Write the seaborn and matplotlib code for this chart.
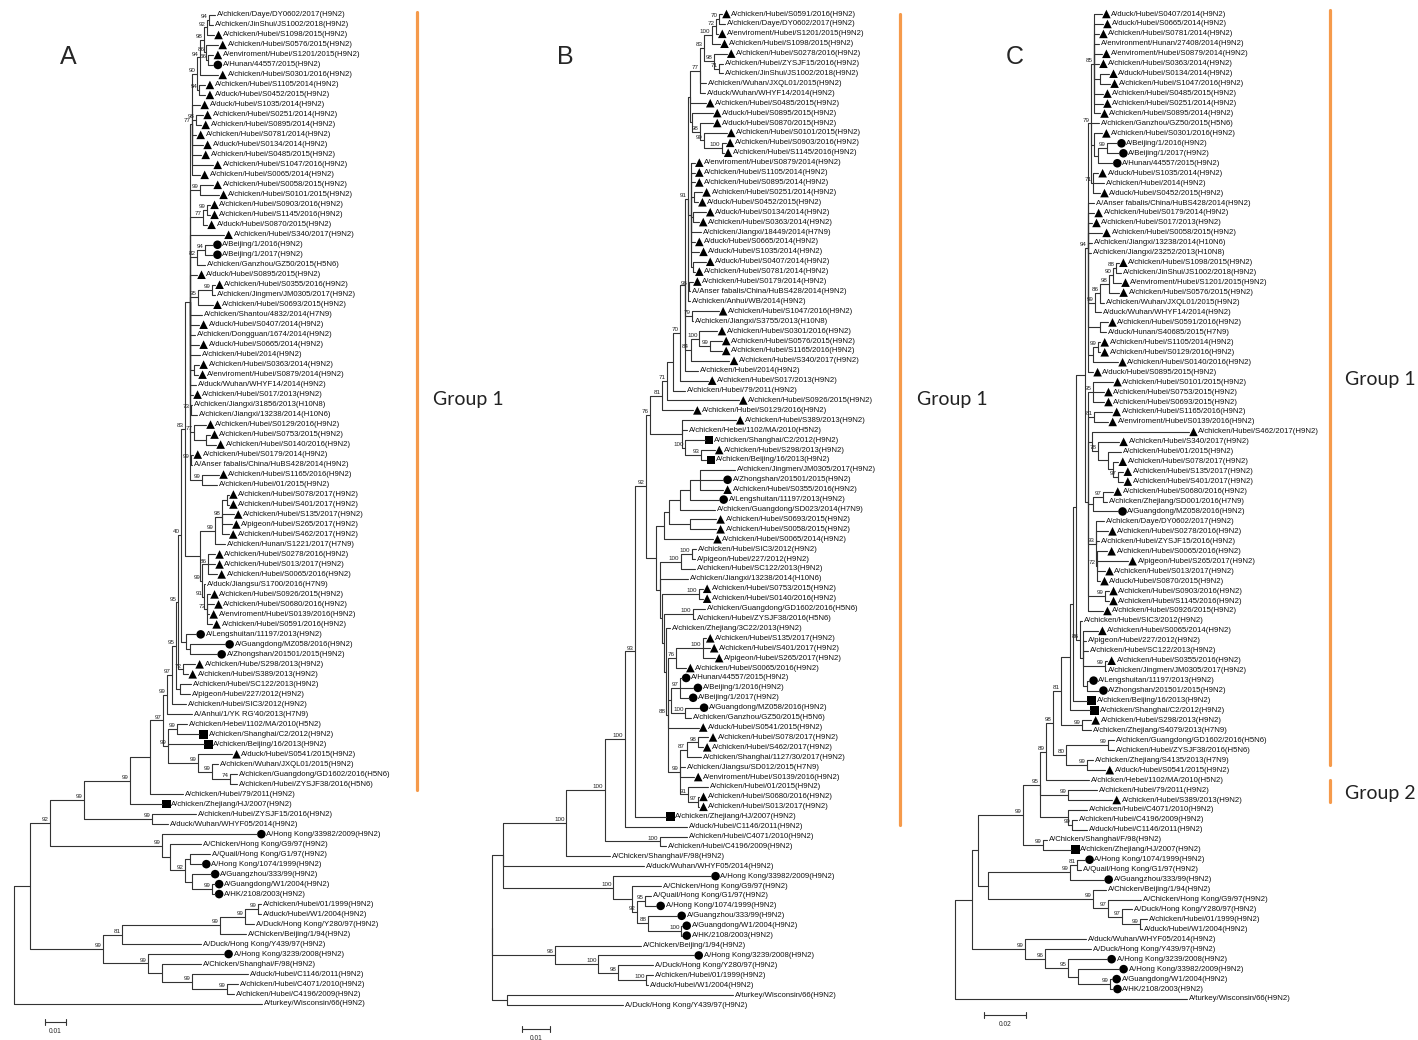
import re
import numpy as np
import pandas as pd
import matplotlib
matplotlib.use("Agg")
import matplotlib.pyplot as plt
from matplotlib.lines import Line2D
import seaborn as sns

sns.set_style("white")
plt.rcParams["font.family"] = ["Liberation Sans Narrow", "Liberation Sans", "DejaVu Sans"]

# ---------------------------------------------------------------- panel A data
LEAVES_A = [
    "A/chicken/Daye/DY0602/2017(H9N2)", "A/chicken/JinShui/JS1002/2018(H9N2)",
    "A/chicken/Hubei/S1098/2015(H9N2)", "A/chicken/Hubei/S0576/2015(H9N2)",
    "A/enviroment/Hubei/S1201/2015(H9N2)", "A/Hunan/44557/2015(H9N2)",
    "A/chicken/Hubei/S0301/2016(H9N2)", "A/chicken/Hubei/S1105/2014(H9N2)",
    "A/duck/Hubei/S0452/2015(H9N2)", "A/duck/Hubei/S1035/2014(H9N2)",
    "A/chicken/Hubei/S0251/2014(H9N2)", "A/chicken/Hubei/S0895/2014(H9N2)",
    "A/chicken/Hubei/S0781/2014(H9N2)", "A/duck/Hubei/S0134/2014(H9N2)",
    "A/chicken/Hubei/S0485/2015(H9N2)", "A/chicken/Hubei/S1047/2016(H9N2)",
    "A/chicken/Hubei/S0065/2014(H9N2)", "A/chicken/Hubei/S0058/2015(H9N2)",
    "A/chicken/Hubei/S0101/2015(H9N2)", "A/chicken/Hubei/S0903/2016(H9N2)",
    "A/chicken/Hubei/S1145/2016(H9N2)", "A/duck/Hubei/S0870/2015(H9N2)",
    "A/chicken/Hubei/S340/2017(H9N2)", "A/Beijing/1/2016(H9N2)",
    "A/Beijing/1/2017(H9N2)", "A/chicken/Ganzhou/GZ50/2015(H5N6)",
    "A/duck/Hubei/S0895/2015(H9N2)", "A/chicken/Hubei/S0355/2016(H9N2)",
    "A/chicken/Jingmen/JM0305/2017(H9N2)", "A/chicken/Hubei/S0693/2015(H9N2)",
    "A/chicken/Shantou/4832/2014(H7N9)", "A/duck/Hubei/S0407/2014(H9N2)",
    "A/chicken/Dongguan/1674/2014(H9N2)", "A/duck/Hubei/S0665/2014(H9N2)",
    "A/chicken/Hubei/2014(H9N2)", "A/chicken/Hubei/S0363/2014(H9N2)",
    "A/enviroment/Hubei/S0879/2014(H9N2)", "A/duck/Wuhan/WHYF14/2014(H9N2)",
    "A/chicken/Hubei/S017/2013(H9N2)", "A/chicken/Jiangxi/31856/2013(H10N8)",
    "A/chicken/Jiangxi/13238/2014(H10N6)", "A/chicken/Hubei/S0129/2016(H9N2)",
    "A/chicken/Hubei/S0753/2015(H9N2)", "A/chicken/Hubei/S0140/2016(H9N2)",
    "A/chicken/Hubei/S0179/2014(H9N2)", "A/Anser fabalis/China/HuBS428/2014(H9N2)",
    "A/chicken/Hubei/S1165/2016(H9N2)", "A/chicken/Hubei/01/2015(H9N2)",
    "A/chicken/Hubei/S078/2017(H9N2)", "A/chicken/Hubei/S401/2017(H9N2)",
    "A/chicken/Hubei/S135/2017(H9N2)", "A/pigeon/Hubei/S265/2017(H9N2)",
    "A/chicken/Hubei/S462/2017(H9N2)", "A/chicken/Hunan/S1221/2017(H7N9)",
    "A/chicken/Hubei/S0278/2016(H9N2)", "A/chicken/Hubei/S013/2017(H9N2)",
    "A/chicken/Hubei/S0065/2016(H9N2)", "A/duck/Jiangsu/S1700/2016(H7N9)",
    "A/chicken/Hubei/S0926/2015(H9N2)", "A/chicken/Hubei/S0680/2016(H9N2)",
    "A/enviroment/Hubei/S0139/2016(H9N2)", "A/chicken/Hubei/S0591/2016(H9N2)",
    "A/Lengshuitan/11197/2013(H9N2)", "A/Guangdong/MZ058/2016(H9N2)",
    "A/Zhongshan/201501/2015(H9N2)", "A/chicken/Hube/S298/2013(H9N2)",
    "A/chicken/Hubei/S389/2013(H9N2)", "A/chicken/Hubei/SC122/2013(H9N2)",
    "A/pigeon/Hubei/227/2012(H9N2)", "A/chicken/Hubei/SIC3/2012(H9N2)",
    "A/Anhui/1/YK RG'40/2013(H7N9)", "A/chicken/Hebei/1102/MA/2010(H5N2)",
    "A/chicken/Shanghai/C2/2012(H9N2)", "A/chicken/Beijing/16/2013(H9N2)",
    "A/duck/Hubei/S0541/2015(H9N2)", "A/chicken/Wuhan/JXQL01/2015(H9N2)",
    "A/chicken/Guangdong/GD1602/2016(H5N6)", "A/chicken/Hubei/ZYSJF38/2016(H5N6)",
    "A/chicken/Hubei/79/2011(H9N2)", "A/chicken/Zhejiang/HJ/2007(H9N2)",
    "A/chicken/Hubei/ZYSJF15/2016(H9N2)", "A/duck/Wuhan/WHYF05/2014(H9N2)",
    "A/Hong Kong/33982/2009(H9N2)", "A/Chicken/Hong Kong/G9/97(H9N2)",
    "A/Quail/Hong Kong/G1/97(H9N2)", "A/Hong Kong/1074/1999(H9N2)",
    "A/Guangzhou/333/99(H9N2)", "A/Guangdong/W1/2004(H9N2)",
    "A/HK/2108/2003(H9N2)", "A/chicken/Hubei/01/1999(H9N2)",
    "A/duck/Hubei/W1/2004(H9N2)", "A/Duck/Hong Kong/Y280/97(H9N2)",
    "A/Chicken/Beijing/1/94(H9N2)", "A/Duck/Hong Kong/Y439/97(H9N2)",
    "A/Hong Kong/3239/2008(H9N2)", "A/Chicken/Shanghai/F/98(H9N2)",
    "A/duck/Hubei/C1146/2011(H9N2)", "A/chicken/Hubei/C4071/2010(H9N2)",
    "A/chicken/Hubei/C4196/2009(H9N2)", "A/turkey/Wisconsin/66(H9N2)",
]
# t = triangle, c = circle, s = square, . = none
MARKS_A = ("..tttctttt" "tttttttttt" "tttcc.tt.t" ".t.t.tt.t." ".tttt.t.tt"
           "ttt.ttt.tt" "ttccctt..." "..sst....s" "..c..cccc." "....c.....")

# branch lengths in 1e-3 substitutions/site, node labels = bootstrap
A_TOP = ("((((((1:2.9,2:1.9)94:1.0,3:3.3)92:1.4,(4:5.7,(5:2.4,6:2.4)66:1.0)86:1.0)98:1.9,"
         "7:8.6)94:1.4,(8:2.9,9:2.9)94:1.0)90:2.4,10:3.8,(11:3.3,12:2.4)98:1.9,13:1.9,"
         "14:5.2,15:4.3,16:10.0,17:3.8)77:1.0")
A_MID = ("(18:6.2,19:9.0)99:4.8,((20:1.4,21:1.4)99:1.9,22:1.9)77:6.2,23:16.2,"
         "((24:3.8,25:3.8)94:3.8,26:3.8)82:3.3,27:3.3,((28:1.4,29:1.4)99:6.7,30:7.1)95:3.8,"
         "31:5.7,32:4.3,33:2.4,34:4.3,35:4.8,(36:2.4,37:1.9):1.9,38:2.9,39:1.4,"
         "(40:0.5,41:2.9)73:0.5,(42:5.7,(43:1.9,44:4.8):5.7)77:1.9,(45:1.0,46:0.5)99:0.5,"
         "(47:8.1,48:7.1)99:5.7")
A_49 = ("((((49:1.0,50:1.0):2.4,51:5.7,52:4.8,53:3.3)98:3.3,54:4.8)99:7.1,"
        "((55:3.3,56:3.3,57:4.3)86:2.9,(58:0.5,(59:1.4,60:3.3,61:1.0,62:2.4)73:1.4)91:1.0)99:1.0):7.1")
A_G1 = ("(((((((" + A_TOP + "," + A_MID + "):2.4," + A_49 + ")83:1.9,"
        "(63:4.8,(64:16.7,65:12.9):1.9):2.4)40:1.4,(66:5.7,67:2.4)72:2.4)95:1.0,"
        "(68:5.2,69:4.8):1.9)95:1.9,70:6.7)97:2.4,71:11.9)99:1.9")
A_HB = "((72:4.8,73:10.5)99:4.3,74:17.1,(75:16.2,(76:2.9,(77:3.3,78:3.3)74:8.6)99:6.7)99:14.3)99:2.4"
A_HK = "(83:45.2,(84:14.8,((85:9.5,86:5.7):2.4,(87:9.0,(88:1.4,89:1.4)99:9.5):3.3)92:7.1):3.8)99:53.3"
A_LO = ("(((((90:1.4,91:1.4)99:6.2,92:4.3)99:11.9,93:12.4)99:46.7,94:37.6)81:9.0,"
        "(95:36.2,(96:18.6,(97:26.7,(98:5.2,99:3.3)99:16.7)99:14.3):6.7)99:21.4)99:34.8")
TREE_A = ("(((((((" + A_G1 + "," + A_HB + ")97:6.2,79:15.7):9.5,80:15.2)99:21.9,"
          "(81:21.0,82:7.6)99:32.4)99:16.2," + A_HK + ")92:9.5," + A_LO + "):7.6,100:118.1);")

# ---------------------------------------------------------------- panel B data
LEAVES_B = [
    "A/chicken/Hubei/S0591/2016(H9N2)", "A/chicken/Daye/DY0602/2017(H9N2)",
    "A/enviroment/Hubei/S1201/2015(H9N2)", "A/chicken/Hubei/S1098/2015(H9N2)",
    "A/chicken/Hubei/S0278/2016(H9N2)", "A/chicken/Hubei/ZYSJF15/2016(H9N2)",
    "A/chicken/JinShui/JS1002/2018(H9N2)", "A/chicken/Wuhan/JXQL01/2015(H9N2)",
    "A/duck/Wuhan/WHYF14/2014(H9N2)", "A/chicken/Hubei/S0485/2015(H9N2)",
    "A/duck/Hubei/S0895/2015(H9N2)", "A/duck/Hubei/S0870/2015(H9N2)",
    "A/chicken/Hubei/S0101/2015(H9N2)", "A/chicken/Hubei/S0903/2016(H9N2)",
    "A/chicken/Hubei/S1145/2016(H9N2)", "A/enviroment/Hubei/S0879/2014(H9N2)",
    "A/chicken/Hubei/S1105/2014(H9N2)", "A/chicken/Hubei/S0895/2014(H9N2)",
    "A/chicken/Hubei/S0251/2014(H9N2)", "A/duck/Hubei/S0452/2015(H9N2)",
    "A/duck/Hubei/S0134/2014(H9N2)", "A/chicken/Hubei/S0363/2014(H9N2)",
    "A/chicken/Jiangxi/18449/2014(H7N9)", "A/duck/Hubei/S0665/2014(H9N2)",
    "A/duck/Hubei/S1035/2014(H9N2)", "A/duck/Hubei/S0407/2014(H9N2)",
    "A/chicken/Hubei/S0781/2014(H9N2)", "A/chicken/Hubei/S0179/2014(H9N2)",
    "A/Anser fabalis/China/HuBS428/2014(H9N2)", "A/chicken/Anhui/WB/2014(H9N2)",
    "A/chicken/Hubei/S1047/2016(H9N2)", "A/chicken/Jiangxi/S3755/2013(H10N8)",
    "A/chicken/Hubei/S0301/2016(H9N2)", "A/chicken/Hubei/S0576/2015(H9N2)",
    "A/chicken/Hubei/S1165/2016(H9N2)", "A/chicken/Hubei/S340/2017(H9N2)",
    "A/chicken/Hubei/2014(H9N2)", "A/chicken/Hubei/S017/2013(H9N2)",
    "A/chicken/Hubei/79/2011(H9N2)", "A/chicken/Hubei/S0926/2015(H9N2)",
    "A/chicken/Hubei/S0129/2016(H9N2)", "A/chicken/Hubei/S389/2013(H9N2)",
    "A/chicken/Hebei/1102/MA/2010(H5N2)", "A/chicken/Shanghai/C2/2012(H9N2)",
    "A/chicken/Hubei/S298/2013(H9N2)", "A/chicken/Beijing/16/2013(H9N2)",
    "A/chicken/Jingmen/JM0305/2017(H9N2)", "A/Zhongshan/201501/2015(H9N2)",
    "A/chicken/Hubei/S0355/2016(H9N2)", "A/Lengshuitan/11197/2013(H9N2)",
    "A/chicken/Guangdong/SD023/2014(H7N9)", "A/chicken/Hubei/S0693/2015(H9N2)",
    "A/chicken/Hubei/S0058/2015(H9N2)", "A/chicken/Hubei/S0065/2014(H9N2)",
    "A/chicken/Hubei/SIC3/2012(H9N2)", "A/pigeon/Hubei/227/2012(H9N2)",
    "A/chicken/Hubei/SC122/2013(H9N2)", "A/chicken/Jiangxi/13238/2014(H10N6)",
    "A/chicken/Hubei/S0753/2015(H9N2)", "A/chicken/Hubei/S0140/2016(H9N2)",
    "A/chicken/Guangdong/GD1602/2016(H5N6)", "A/chicken/Hubei/ZYSJF38/2016(H5N6)",
    "A/chicken/Zhejiang/3C22/2013(H9N2)", "A/chicken/Hubei/S135/2017(H9N2)",
    "A/chicken/Hubei/S401/2017(H9N2)", "A/pigeon/Hubei/S265/2017(H9N2)",
    "A/chicken/Hubei/S0065/2016(H9N2)", "A/Hunan/44557/2015(H9N2)",
    "A/Beijing/1/2016(H9N2)", "A/Beijing/1/2017(H9N2)",
    "A/Guangdong/MZ058/2016(H9N2)", "A/chicken/Ganzhou/GZ50/2015(H5N6)",
    "A/duck/Hubei/S0541/2015(H9N2)", "A/chicken/Hubei/S078/2017(H9N2)",
    "A/chicken/Hubei/S462/2017(H9N2)", "A/chicken/Shanghai/1127/30/2017(H9N2)",
    "A/chicken/Jiangsu/SD012/2015(H7N9)", "A/enviroment/Hubei/S0139/2016(H9N2)",
    "A/chicken/Hubei/01/2015(H9N2)", "A/chicken/Hubei/S0680/2016(H9N2)",
    "A/chicken/Hubei/S013/2017(H9N2)", "A/chicken/Zhejiang/HJ/2007(H9N2)",
    "A/duck/Hubei/C1146/2011(H9N2)", "A/chicken/Hubei/C4071/2010(H9N2)",
    "A/chicken/Hubei/C4196/2009(H9N2)", "A/Chicken/Shanghai/F/98(H9N2)",
    "A/duck/Wuhan/WHYF05/2014(H9N2)", "A/Hong Kong/33982/2009(H9N2)",
    "A/Chicken/Hong Kong/G9/97(H9N2)", "A/Quail/Hong Kong/G1/97(H9N2)",
    "A/Hong Kong/1074/1999(H9N2)", "A/Guangzhou/333/99(H9N2)",
    "A/Guangdong/W1/2004(H9N2)", "A/HK/2108/2003(H9N2)",
    "A/Chicken/Beijing/1/94(H9N2)", "A/Hong Kong/3239/2008(H9N2)",
    "A/Duck/Hong Kong/Y280/97(H9N2)", "A/chicken/Hubei/01/1999(H9N2)",
    "A/duck/Hubei/W1/2004(H9N2)", "A/turkey/Wisconsin/66(H9N2)",
    "A/Duck/Hong Kong/Y439/97(H9N2)",
]
MARKS_B = ("t.ttt....t" "tttttttttt" "tt.ttttt.." "t.tttt.t.t" "tt.sts.ctc"
           ".ttt....tt" "...ttttccc" "c.ttt..t.t" "ts.....c.." "cccc.c...." ".")

B_1_15 = ("((((((1:1.1,2:2.1)70:1.1,3:0.7)72:1.4,4:2.9)100:2.9,(5:4.6,(6:1.4,7:1.4)71:1.8)98:3.6)83:1.4,"
          "8:2.1,9:1.8)77:3.6,10:5.7,(11:7.5,(12:4.6,(13:8.2,(14:1.4,15:0.7)100:6.4)99:1.4)98:2.9):0.7):0.7")
B_16_30 = ("(16:1.4,17:1.4,18:1.4,(19:2.9,20:1.4):1.1,(21:4.6,22:2.1):0.7,23:3.6,24:1.4,25:2.9,"
           "(26:4.6,27:0.7):0.7):1.1,(28:1.4,29:0.4)96:0.4,30:0.7")
B_1_37 = ("((" + B_1_15 + "," + B_16_30 + ")91:1.1,(31:9.6,32:0.4)79:2.5,"
          "((33:6.4,(34:4.3,35:4.3)99:3.6)100:3.2,36:13.9)84:2.1,37:4.6):1.8")
B_UP = ("(((((" + B_1_37 + ",38:10.0)70:2.5,39:4.3):2.1,40:25.7)71:1.8,41:11.1)81:4.3,"
        "(42:19.3,43:2.1,(44:6.8,(45:5.0,46:2.1)93:5.4)100:1.4):11.4)76:1.4")
B_47 = "(((((47:12.5,48:8.2,49:8.2):3.6,50:10.4):3.6,51:12.5):3.9,(52:9.3,53:9.3):7.5):1.8,54:17.5):2.9"
B_63 = ("(63:1.4,(((64:1.1,65:2.5,66:4.3)100:9.6,67:3.6)76:2.9,"
        "((68:0.4,69:4.6,70:2.9)97:3.2,(71:5.0,72:1.8)100:5.0):1.4,73:11.1,"
        "(((74:3.9,75:1.8)98:3.9,76:5.0)87:2.5,77:2.1,78:5.0,(79:7.1,(80:0.4,81:0.4)97:3.6)91:2.9)99:4.3)88:0.7):0.7")
B_55 = ("(((55:1.4,56:1.1)100:3.9,57:5.0)100:7.5,58:10.0,((59:1.4,60:1.4)100:13.2,"
        "((61:4.3,62:0.7)100:10.4," + B_63 + "):0.7):0.7):1.4")
B_HK = "(88:35.0,(89:10.4,((90:2.1,91:3.9)95:2.9,(92:10.4,(93:0.4,94:0.4)100:11.8)88:3.9)92:1.8):6.8)100:39.3"
TREE_B = ("(((((((" + B_UP + ",(" + B_47 + "," + B_55 + "):3.6)92:3.9,82:11.1)93:3.6,83:22.1)100:7.1,"
          "(84:9.6,85:2.1)100:19.6)100:13.9,86:15.7)100:22.5,87:50.4," + B_HK + "):3.9,"
          "(95:30.7,(96:34.3,(97:12.5,(98:2.5,99:0.7)100:10.0)98:7.1)100:15.4)96:22.5,"
          "(100:80.7,101:41.4):5.4);")

# ---------------------------------------------------------------- panel C data
LEAVES_C = [
    "A/duck/Hubei/S0407/2014(H9N2)", "A/duck/Hubei/S0665/2014(H9N2)",
    "A/chicken/Hubei/S0781/2014(H9N2)", "A/environment/Hunan/27408/2014(H9N2)",
    "A/enviroment/Hubei/S0879/2014(H9N2)", "A/chicken/Hubei/S0363/2014(H9N2)",
    "A/duck/Hubei/S0134/2014(H9N2)", "A/chicken/Hubei/S1047/2016(H9N2)",
    "A/chicken/Hubei/S0485/2015(H9N2)", "A/chicken/Hubei/S0251/2014(H9N2)",
    "A/chicken/Hubei/S0895/2014(H9N2)", "A/chicken/Ganzhou/GZ50/2015(H5N6)",
    "A/chicken/Hubei/S0301/2016(H9N2)", "A/Beijing/1/2016(H9N2)",
    "A/Beijing/1/2017(H9N2)", "A/Hunan/44557/2015(H9N2)",
    "A/duck/Hubei/S1035/2014(H9N2)", "A/chicken/Hubei/2014(H9N2)",
    "A/duck/Hubei/S0452/2015(H9N2)", "A/Anser fabalis/China/HuBS428/2014(H9N2)",
    "A/chicken/Hubei/S0179/2014(H9N2)", "A/chicken/Hubei/S017/2013(H9N2)",
    "A/chicken/Hubei/S0058/2015(H9N2)", "A/chicken/Jiangxi/13238/2014(H10N6)",
    "A/chicken/Jiangxi/23252/2013(H10N8)", "A/chicken/Hubei/S1098/2015(H9N2)",
    "A/chicken/JinShui/JS1002/2018(H9N2)", "A/enviroment/Hubei/S1201/2015(H9N2)",
    "A/chicken/Hubei/S0576/2015(H9N2)", "A/chicken/Wuhan/JXQL01/2015(H9N2)",
    "A/duck/Wuhan/WHYF14/2014(H9N2)", "A/chicken/Hubei/S0591/2016(H9N2)",
    "A/duck/Hunan/S40685/2015(H7N9)", "A/chicken/Hubei/S1105/2014(H9N2)",
    "A/chicken/Hubei/S0129/2016(H9N2)", "A/chicken/Hubei/S0140/2016(H9N2)",
    "A/duck/Hubei/S0895/2015(H9N2)", "A/chicken/Hubei/S0101/2015(H9N2)",
    "A/chicken/Hubei/S0753/2015(H9N2)", "A/chicken/Hubei/S0693/2015(H9N2)",
    "A/chicken/Hubei/S1165/2016(H9N2)", "A/enviroment/Hubei/S0139/2016(H9N2)",
    "A/chicken/Hubei/S462/2017(H9N2)", "A/chicken/Hubei/S340/2017(H9N2)",
    "A/chicken/Hubei/01/2015(H9N2)", "A/chicken/Hubei/S078/2017(H9N2)",
    "A/chicken/Hubei/S135/2017(H9N2)", "A/chicken/Hubei/S401/2017(H9N2)",
    "A/chicken/Hubei/S0680/2016(H9N2)", "A/chicken/Zhejiang/SD001/2016(H7N9)",
    "A/Guangdong/MZ058/2016(H9N2)", "A/chicken/Daye/DY0602/2017(H9N2)",
    "A/chicken/Hubei/S0278/2016(H9N2)", "A/chicken/Hubei/ZYSJF15/2016(H9N2)",
    "A/chicken/Hubei/S0065/2016(H9N2)", "A/pigeon/Hubei/S265/2017(H9N2)",
    "A/chicken/Hubei/S013/2017(H9N2)", "A/duck/Hubei/S0870/2015(H9N2)",
    "A/chicken/Hubei/S0903/2016(H9N2)", "A/chicken/Hubei/S1145/2016(H9N2)",
    "A/chicken/Hubei/S0926/2015(H9N2)", "A/chicken/Hubei/SIC3/2012(H9N2)",
    "A/chicken/Hubei/S0065/2014(H9N2)", "A/pigeon/Hubei/227/2012(H9N2)",
    "A/chicken/Hubei/SC122/2013(H9N2)", "A/chicken/Hubei/S0355/2016(H9N2)",
    "A/chicken/Jingmen/JM0305/2017(H9N2)", "A/Lengshuitan/11197/2013(H9N2)",
    "A/Zhongshan/201501/2015(H9N2)", "A/chicken/Beijing/16/2013(H9N2)",
    "A/chicken/Shanghai/C2/2012(H9N2)", "A/chicken/Hubei/S298/2013(H9N2)",
    "A/chicken/Zhejiang/S4079/2013(H7N9)", "A/chicken/Guangdong/GD1602/2016(H5N6)",
    "A/chicken/Hubei/ZYSJF38/2016(H5N6)", "A/chicken/Zhejiang/S4135/2013(H7N9)",
    "A/duck/Hubei/S0541/2015(H9N2)", "A/chicken/Hebei/1102/MA/2010(H5N2)",
    "A/chicken/Hubei/79/2011(H9N2)", "A/chicken/Hubei/S389/2013(H9N2)",
    "A/chicken/Hubei/C4071/2010(H9N2)", "A/chicken/Hubei/C4196/2009(H9N2)",
    "A/duck/Hubei/C1146/2011(H9N2)", "A/Chicken/Shanghai/F/98(H9N2)",
    "A/chicken/Zhejiang/HJ/2007(H9N2)", "A/Hong Kong/1074/1999(H9N2)",
    "A/Quail/Hong Kong/G1/97(H9N2)", "A/Guangzhou/333/99(H9N2)",
    "A/Chicken/Beijing/1/94(H9N2)", "A/Chicken/Hong Kong/G9/97(H9N2)",
    "A/Duck/Hong Kong/Y280/97(H9N2)", "A/chicken/Hubei/01/1999(H9N2)",
    "A/duck/Hubei/W1/2004(H9N2)", "A/duck/Wuhan/WHYF05/2014(H9N2)",
    "A/Duck/Hong Kong/Y439/97(H9N2)", "A/Hong Kong/3239/2008(H9N2)",
    "A/Hong Kong/33982/2009(H9N2)", "A/Guangdong/W1/2004(H9N2)",
    "A/HK/2108/2003(H9N2)", "A/turkey/Wisconsin/66(H9N2)",
]
MARKS_C = ("ttt.tttttt" "t.tccct.t." "ttt..t.tt." ".t.ttttttt" "tttt.tttt."
           "c.t.tttttt" "t.t..t.ccs" "st....t..t" "....sc.c.." ".....cccc.")

C_1_19 = ("((1:3.8,2:4.3,3:2.4,4:2.4,5:3.8,6:2.4,(7:4.3,8:4.8):2.9,9:4.3,10:4.3,11:2.9)85:1.4,12:3.8,"
          "(13:3.8,((14:4.8,15:5.7)99:4.3,16:7.1):1.9):1.4,(17:2.4,18:5.2,19:3.3)71:1.0)79:1.4")
C_1_37 = ("(" + C_1_19 + ",20:2.9,21:2.9,22:1.9,23:6.7,24:1.9,25:1.4,"
          "(((((26:1.4,27:2.4)88:1.4,28:3.8)90:1.9,29:4.8)98:4.3,30:1.9)86:2.4,31:2.9)99:3.3,"
          "(32:3.8,33:2.9):5.7,((34:1.0,35:1.0)99:2.4,36:11.9):2.4,37:2.4)94:1.4")
C_38_61 = ("((38:9.5,39:5.2,40:5.2)95:2.4,(41:8.6,42:6.7)81:2.9,"
           "(43:46.2,(44:10.0,(45:6.2,(46:2.4,(47:2.4,48:2.4)97:2.4):2.4):4.8)78:2.9):1.9,"
           "((49:4.8,50:1.9)97:4.8,51:11.9):2.4,"
           "(52:3.8,53:5.7,54:1.4,(55:4.8,56:14.8,57:3.8,58:1.4)72:0.5)93:3.8,"
           "(59:1.9,60:1.9)99:8.1,61:7.1):1.4")
C_62_69 = "(62:1.0,(63:7.1,64:1.4,65:2.4,(66:1.0,67:0.5)99:10.5,(68:1.0,69:5.7):1.9):1.4)86:1.9"
C_G1 = ("((((((" + C_1_37 + "," + C_38_61 + "):4.3," + C_62_69 + "):1.4,70:6.7):1.4,71:9.5):4.3,"
        "(72:4.3,73:4.3)99:10.0)81:3.8,((74:2.9,75:2.9)99:20.0,(76:2.9,77:8.6)99:10.0)80:6.2)98:3.3")
C_OLD = ("(((86:3.8,87:1.9)81:3.3,88:16.2)99:39.0,"
         "(89:6.2,(90:15.7,(91:4.8,(92:3.3,93:1.0)99:8.6)97:6.7)97:7.1)99:50.0):4.8")
C_LOW = "(94:29.0,(95:21.9,(96:18.6,(97:19.5,(98:1.0,99:1.4)99:15.2):4.8)95:11.0)96:9.5)99:25.2"
TREE_C = ("((((((" + C_G1 + ",78:20.5)89:2.9,(79:13.8,80:21.0)99:13.3,(81:9.0,(82:2.4,83:7.1)99:1.9):13.3)95:8.1,"
          "(84:1.9,85:13.3)99:9.5)99:21.4," + C_OLD + "):2.9," + C_LOW + "):8.1,100:110.5);")

# ---------------------------------------------------------------- helpers
def parse_newick(s):
    s = s.strip().rstrip(";")
    pos = 0

    def node():
        nonlocal pos
        kids = []
        if s[pos] == "(":
            pos += 1
            while True:
                kids.append(node())
                if s[pos] == ",":
                    pos += 1
                    continue
                pos += 1
                break
        m = re.match(r"[^:,()]*", s[pos:])
        name = m.group(0).strip()
        pos += len(m.group(0))
        bl = 0.0
        if pos < len(s) and s[pos] == ":":
            m = re.match(r":([0-9.]+)", s[pos:])
            bl = float(m.group(1))
            pos += len(m.group(0))
        return {"name": name, "bl": bl, "kids": kids}

    return node()


def layout(tree):
    segs, sup, tips = [], [], {}

    def walk(n, x0):
        x = x0 + n["bl"]
        if not n["kids"]:
            i = int(n["name"])
            tips[i] = x
            return x, float(i)
        pts = [walk(k, x) for k in n["kids"]]
        y = (pts[0][1] + pts[-1][1]) / 2
        for kx, ky in pts:
            segs.append([(x, y), (x, ky), (kx, ky)])
        if n["name"]:
            sup.append((x, y, n["name"]))
        return x, y

    t = parse_newick(tree)
    t["bl"] = 0.0
    walk(t, 0.0)
    return segs, sup, tips


W, H = 1418, 1040
ORANGE = "#F59A4B"
LINE = "#333333"
MARKERS = {"t": "^", "c": "o", "s": "s"}

PANELS = [
    dict(key="A", tree=TREE_A, leaves=LEAVES_A, marks=MARKS_A, left=6, width=406, root=14,
         ppu=2.1, first=15, last=1004, bar=10, bar_text="0.01", bar_x=45, bar_y=1022, letter=(68, 57)),
    dict(key="B", tree=TREE_B, leaves=LEAVES_B, marks=MARKS_B, left=484, width=412, root=492,
         ppu=2.8, first=14, last=1005, bar=10, bar_text="0.01", bar_x=522, bar_y=1029, letter=(565, 57)),
    dict(key="C", tree=TREE_C, leaves=LEAVES_C, marks=MARKS_C, left=948, width=380, root=955,
         ppu=2.1, first=14, last=999, bar=20, bar_text="0.02", bar_x=984, bar_y=1015, letter=(1015, 57)),
]

fig = plt.figure(figsize=(W / 100, H / 100), dpi=100)
fig.patch.set_facecolor("white")

for p in PANELS:
    segs, sup, tips = layout(p["tree"])
    n = len(p["leaves"])
    assert sorted(tips) == list(range(1, n + 1)), (p["key"], sorted(set(range(1, n + 1)) - set(tips)))
    assert len(p["marks"]) == n, (p["key"], len(p["marks"]))

    sp = (p["last"] - p["first"]) / (n - 1)
    ppu = p["ppu"]
    ax = fig.add_axes([p["left"] / W, 0, p["width"] / W, 1])
    ax.set_xlim((p["left"] - p["root"]) / ppu, (p["left"] + p["width"] - p["root"]) / ppu)
    ax.set_ylim(1 + (H - p["first"]) / sp, 1 + (0 - p["first"]) / sp)
    ax.axis("off")

    rows = []
    for k, seg in enumerate(segs):
        for x, y in seg:
            rows.append((k, x, y))
    edf = pd.DataFrame(rows, columns=["seg", "x", "y"])
    sns.lineplot(data=edf, x="x", y="y", units="seg", estimator=None, sort=False,
                 color=LINE, linewidth=0.8, ax=ax)

    tdf = pd.DataFrame({"id": list(range(1, n + 1)),
                        "label": p["leaves"],
                        "mark": list(p["marks"])})
    tdf["tip"] = tdf["id"].map(tips)
    tdf["mx"] = tdf["tip"] + 4.6 / ppu
    mdf = tdf[tdf["mark"] != "."]
    sns.scatterplot(data=mdf, x="mx", y="id", style="mark", markers=MARKERS,
                    color="black", s=38, linewidth=0, legend=False, ax=ax)

    for _, r in tdf.iterrows():
        off = 9.5 if r["mark"] != "." else 2.0
        ax.text(r["tip"] + off / ppu, r["id"], r["label"], fontsize=5.6,
                va="center", ha="left", color="#111111")

    for x, y, lab in sup:
        ax.annotate(lab, (x, y), xytext=(-1.0, 0.6), textcoords="offset points",
                    ha="right", va="bottom", fontsize=4.5, color="#222222")

    # scale bar
    bx = (p["bar_x"] - p["root"]) / ppu
    by = 1 + (p["bar_y"] - p["first"]) / sp
    ax.plot([bx, bx + p["bar"]], [by, by], color=LINE, lw=0.8)
    for xx in (bx, bx + p["bar"]):
        ax.plot([xx, xx], [by - 0.3, by + 0.3], color=LINE, lw=0.8)
    ax.text(bx + p["bar"] / 2, by + 1.0, p["bar_text"], ha="center", va="center", fontsize=4.8)

    fig.text(p["letter"][0] / W, 1 - p["letter"][1] / H, p["key"], fontsize=18,
             ha="center", va="center", family="Liberation Sans")

# group brackets
GROUP_BARS = [(417, 12, 790), (900, 14, 825), (1330, 10, 765), (1330, 780, 802)]
GROUP_TEXT = [(433, 400, "Group 1"), (917, 400, "Group 1"), (1345, 380, "Group 1"), (1345, 793, "Group 2")]
for x, y0, y1 in GROUP_BARS:
    fig.add_artist(Line2D([x / W, x / W], [1 - y0 / H, 1 - y1 / H], color=ORANGE, lw=2.3))
for x, y, t in GROUP_TEXT:
    fig.text(x / W, 1 - y / H, t, fontsize=14, ha="left", va="center",
             family="Lato", color="#222222")

fig.savefig("out.png", dpi=100, facecolor="white")
